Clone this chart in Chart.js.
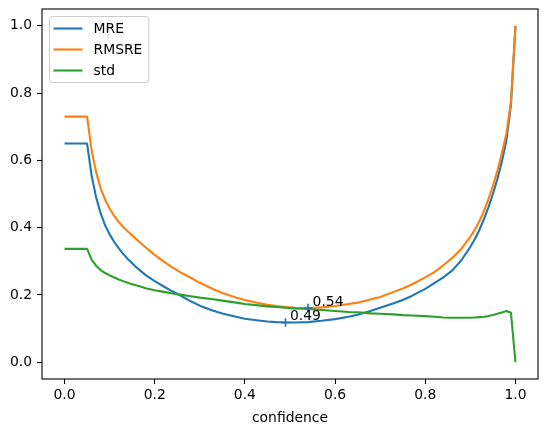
<!DOCTYPE html>
<html>
<head>
<meta charset="utf-8">
<script src="https://cdn.jsdelivr.net/npm/chart.js@4.4.1/dist/chart.umd.min.js"></script>
<style>
  html, body { margin: 0; padding: 0; background: #fff; }
  #wrap { width: 547px; height: 432px; }
</style>
</head>
<body>
<div id="wrap"><canvas id="mycanvas" width="547" height="432"></canvas></div>
<script>
// values
var confidence = [0, 0.01, 0.02, 0.03, 0.04, 0.05, 0.06, 0.07, 0.08, 0.09, 0.10,
    0.11, 0.12, 0.13, 0.14, 0.15, 0.16, 0.17, 0.18, 0.19, 0.20,
    0.22, 0.24, 0.26, 0.28, 0.30, 0.33, 0.35, 0.38, 0.40,
    0.43, 0.45, 0.47, 0.49, 0.51, 0.54, 0.57, 0.60,
    0.63, 0.65, 0.68, 0.70, 0.73, 0.75, 0.77, 0.80,
    0.82, 0.84, 0.86, 0.88, 0.90,
    0.91, 0.92, 0.93, 0.94, 0.95, 0.96, 0.97, 0.98, 0.99, 1.00];

var mre = [0.65, 0.65, 0.65, 0.65, 0.65, 0.65, 0.555, 0.49, 0.443, 0.407, 0.38,
    0.358, 0.339, 0.322, 0.307, 0.294, 0.281, 0.27, 0.259, 0.25, 0.241,
    0.225, 0.21, 0.196, 0.181, 0.168, 0.153, 0.145, 0.135, 0.129,
    0.124, 0.121, 0.119, 0.118, 0.118, 0.119, 0.123, 0.128,
    0.135, 0.141, 0.153, 0.162, 0.175, 0.185, 0.197, 0.218,
    0.235, 0.252, 0.273, 0.303, 0.343,
    0.366, 0.393, 0.425, 0.46, 0.50, 0.545, 0.597, 0.66, 0.765, 1.0];

var rmsre = [0.73, 0.73, 0.73, 0.73, 0.73, 0.73, 0.63, 0.565, 0.517, 0.483, 0.457,
    0.435, 0.417, 0.402, 0.389, 0.377, 0.365, 0.353, 0.341, 0.330, 0.319,
    0.299, 0.281, 0.265, 0.251, 0.236, 0.217, 0.206, 0.192, 0.185,
    0.176, 0.171, 0.167, 0.164, 0.162, 0.161, 0.163, 0.167,
    0.173, 0.177, 0.187, 0.194, 0.209, 0.219, 0.231, 0.252,
    0.268, 0.288, 0.31, 0.337, 0.373,
    0.394, 0.419, 0.449, 0.485, 0.524, 0.57, 0.622, 0.68, 0.775, 1.0];

var std = [0.337, 0.337, 0.337, 0.337, 0.337, 0.337, 0.305, 0.287, 0.274, 0.265, 0.258,
    0.252, 0.246, 0.241, 0.236, 0.232, 0.228, 0.224, 0.220, 0.217, 0.214,
    0.209, 0.204, 0.200, 0.196, 0.192, 0.187, 0.183, 0.177, 0.173,
    0.169, 0.166, 0.164, 0.162, 0.160, 0.158, 0.155, 0.152,
    0.149, 0.148, 0.145, 0.144, 0.142, 0.140, 0.139, 0.137,
    0.135, 0.133, 0.132, 0.132, 0.132,
    0.133, 0.134, 0.135, 0.137, 0.140, 0.144, 0.148, 0.152, 0.147, 0.0];

var markX = [0.49, 0.54];
var markY = [0.118, 0.161];
var markText = ['0.49', '0.54'];

var xTicks = [0, 0.2, 0.4, 0.6, 0.8, 1.0];
var yTicks = [0, 0.2, 0.4, 0.6, 0.8, 1.0];

function points(xs, ys) {
    var out = [];
    for (let i in xs) {
        out.push({x: xs[i], y: ys[i]});
    }
    return out;
}

Chart.defaults.font.family = "'DejaVu Sans', sans-serif";
Chart.defaults.font.size = 13.9;
Chart.defaults.color = '#000';

var tickGrid = {
    display: true,
    drawOnChartArea: false,
    drawTicks: true,
    tickLength: 5,
    tickWidth: 1.1,
    tickColor: '#000'
};

// box around the plot area (matplotlib spines)
var framePlugin = {
    id: 'frame',
    afterDatasetsDraw: function(chart) {
        var a = chart.chartArea;
        var c = chart.ctx;
        c.save();
        c.strokeStyle = '#000';
        c.lineWidth = 1.1;
        c.strokeRect(a.left, a.top, a.right - a.left, a.bottom - a.top);
        c.restore();
    }
};

// text next to the minimum markers
var markLabels = {
    id: 'markLabels',
    afterDatasetsDraw: function(chart) {
        var c = chart.ctx;
        var sx = chart.scales.x, sy = chart.scales.y;
        c.save();
        c.font = "13.9px 'DejaVu Sans', sans-serif";
        c.fillStyle = '#000';
        c.textAlign = 'left';
        c.textBaseline = 'alphabetic';
        for (let i in markX) {
            c.fillText(markText[i], sx.getPixelForValue(markX[i] + 0.01), sy.getPixelForValue(markY[i]) - 2);
        }
        c.restore();
    }
};

// matplotlib style legend, upper left inside the axes
var boxLegend = {
    id: 'boxLegend',
    afterDraw: function(chart) {
        var c = chart.ctx;
        var a = chart.chartArea;
        var items = chart.data.datasets.filter(function(d){ return d.label; });
        c.save();
        c.font = "13.9px 'DejaVu Sans', sans-serif";
        var tw = 0;
        items.forEach(function(d){ tw = Math.max(tw, c.measureText(d.label).width); });
        var left = a.left + 7.5, top = a.top + 7.5;
        var w = 5.5 + 28 + 11 + tw + 6, h = 66;
        c.fillStyle = 'rgba(255,255,255,0.8)';
        c.strokeStyle = '#cccccc';
        c.lineWidth = 1;
        c.beginPath();
        c.roundRect(left, top, w, h, 3);
        c.fill();
        c.stroke();
        c.textAlign = 'left';
        c.textBaseline = 'middle';
        items.forEach(function(d, i){
            var y = top + 12 + 21 * i;
            c.strokeStyle = d.borderColor;
            c.lineWidth = 2.1;
            c.beginPath();
            c.moveTo(left + 4, y);
            c.lineTo(left + 33, y);
            c.stroke();
            c.fillStyle = '#000';
            c.fillText(d.label, left + 44, y + 1);
        });
        c.restore();
    }
};

var chardata = {
    datasets : [
        {
            label : 'MRE',
            data : points(confidence, mre),
            borderColor : '#1f77b4',
            borderWidth : 2.1,
            pointRadius : 0,
            borderJoinStyle : 'round',
            order : 3
        },
        {
            label : 'RMSRE',
            data : points(confidence, rmsre),
            borderColor : '#ff7f0e',
            borderWidth : 2.1,
            pointRadius : 0,
            borderJoinStyle : 'round',
            order : 2
        },
        {
            label : 'std',
            data : points(confidence, std),
            borderColor : '#2ca02c',
            borderWidth : 2.1,
            pointRadius : 0,
            borderJoinStyle : 'round',
            order : 1
        },
        {
            data : points(markX, markY),
            showLine : false,
            pointStyle : 'cross',
            pointRadius : 4.3,
            pointBorderWidth : 1.6,
            borderColor : '#1f77b4',
            backgroundColor : '#1f77b4',
            order : 0
        }
    ]
};

var ctx = document.getElementById('mycanvas');
var LineGraph = new Chart(ctx, {
    type : 'line',
    data : chardata,
    plugins : [framePlugin, markLabels, boxLegend],
    options : {
        responsive : false,
        animation : false,
        devicePixelRatio : 1,
        layout : { padding : { top : 9, right : 9, left : 0, bottom : 0 } },
        plugins : {
            legend : { display : false },
            tooltip : { enabled : false }
        },
        scales : {
            x : {
                type : 'linear',
                min : -0.05,
                max : 1.05,
                afterBuildTicks : function(s){ s.ticks = xTicks.map(function(v){ return {value: v}; }); },
                afterFit : function(s){ s.height = 53; s.paddingLeft = 0; s.paddingRight = 0; },
                grid : tickGrid,
                border : { display : false },
                ticks : {
                    padding : 3,
                    maxRotation : 0,
                    autoSkip : false,
                    callback : function(v){ return v.toFixed(1); }
                },
                title : { display : true, text : 'confidence', padding : { top : 0, bottom : 5 } }
            },
            y : {
                type : 'linear',
                min : -0.05,
                max : 1.05,
                afterBuildTicks : function(s){ s.ticks = yTicks.map(function(v){ return {value: v}; }); },
                afterFit : function(s){ s.width = 42; s.paddingTop = 0; s.paddingBottom = 0; },
                grid : tickGrid,
                border : { display : false },
                ticks : {
                    padding : 5,
                    autoSkip : false,
                    callback : function(v){ return v.toFixed(1); }
                }
            }
        }
    }
});
</script>
</body>
</html>
